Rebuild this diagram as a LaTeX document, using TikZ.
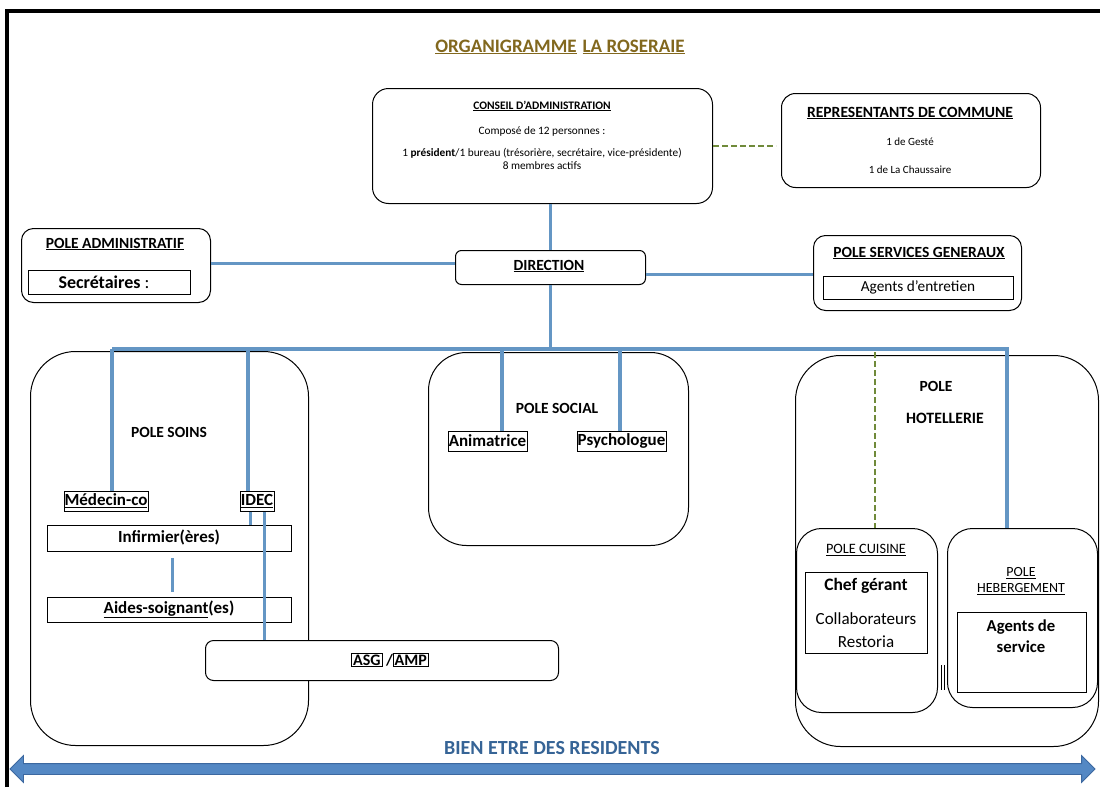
\documentclass[tikz,border=0pt]{standalone}
\usepackage{fontspec}
\setmainfont{Carlito}
\usetikzlibrary{shapes.arrows}
\definecolor{blueline}{RGB}{100,150,196}
\definecolor{titlecol}{RGB}{130,104,30}
\definecolor{olivedash}{RGB}{112,138,58}
\definecolor{bientxt}{RGB}{54,100,150}
\definecolor{arrowfill}{RGB}{84,136,196}
\definecolor{arrowline}{RGB}{60,104,160}
\begin{document}
\begin{tikzpicture}[x=1pt,y=-1pt,
  rbox/.style={draw, line width=1pt, rounded corners=#1, fill=white, inner sep=0pt, anchor=north west},
  sbox/.style={draw, line width=0.9pt, fill=white, inner sep=0pt, anchor=north west},
  link/.style={draw=blueline, line width=3.6pt},
  dashlink/.style={draw=olivedash, line width=2pt, dash pattern=on 6pt off 3pt},
  tb/.style={font=\fontsize{15.5}{18}\selectfont\bfseries, inner sep=0pt},
  tl/.style={font=\fontsize{17}{20}\selectfont\bfseries, inner sep=0pt},
  tn/.style={font=\fontsize{15.3}{18}\selectfont, inner sep=0pt},
  tsm/.style={font=\fontsize{11.3}{13}\selectfont, inner sep=0pt, align=center},
]
\useasboundingbox (0,0) rectangle (1100,787);
\fill[white] (0,0) rectangle (1100,787);
% frame
\draw[line width=4pt] (7,787) -- (7,11) -- (1100,11);

% title
\node[font=\fontsize{19}{22}\selectfont\bfseries, text=titlecol, inner sep=0pt] (title) at (560,47)
  {\underline{ORGANIGRAMME}\hspace{6pt}\underline{LA ROSERAIE}};

% conseil
\node[rbox=16pt, minimum width=340pt, minimum height=115pt] (ca) at (372,88) {};
\node[font=\fontsize{11.5}{13}\selectfont\bfseries, inner sep=0pt] (catitle) at (542,106) {\underline{CONSEIL D'ADMINISTRATION}};
\node[tsm] (cal1) at (542,131) {Composé de 12 personnes :};
\node[tsm] (cal2) at (542,159) {1 \textbf{président}/1 bureau (trésorière, secrétaire, vice-présidente)\\8 membres actifs};

% representants
\node[rbox=14pt, minimum width=259pt, minimum height=94pt] (rc) at (781,93) {};
\node[font=\fontsize{15.6}{18}\selectfont\bfseries, inner sep=0pt] (rctitle) at (910,113) {\underline{REPRESENTANTS DE COMMUNE}};
\node[font=\fontsize{11}{13}\selectfont, inner sep=0pt] (rc1) at (910,142) {1 de Gesté};
\node[font=\fontsize{11}{13}\selectfont, inner sep=0pt] (rc2) at (910,170) {1 de La Chaussaire};
\draw[dashlink, shorten >=5pt] (ca.east) -- (ca.east -| rc.west);

% direction
\node[rbox=6pt, minimum width=190pt, minimum height=34pt] (dir) at (455,250) {};
\node[tb] (dirt) at (549,266) {\underline{DIRECTION}};
\draw[link] (dir.north) -- (dir.north |- ca.south);

% pole administratif
\node[rbox=12pt, minimum width=189pt, minimum height=74pt] (pa) at (21,228) {};
\node[tb] (pat) at (115,244) {\underline{POLE ADMINISTRATIF}};
\node[sbox, minimum width=162pt, minimum height=24pt] (sa) at (28,270) {};
\node[font=\fontsize{18}{20}\selectfont, inner sep=0pt] (sat) at (104,282) {\textbf{Secrétaires} :};
\coordinate (a1) at ([yshift=2pt]pa.east);
\draw[link] (a1) -- (a1 -| dir.west);

% pole services generaux
\node[rbox=12pt, minimum width=208pt, minimum height=75pt] (sg) at (813,235) {};
\node[tb] (sgt) at (919,253) {\underline{POLE SERVICES GENERAUX}};
\node[sbox, minimum width=190pt, minimum height=23pt] (ae) at (823,276) {};
\node[tn] (aet) at (918,287.5) {Agents d’entretien};
\coordinate (d1) at ([yshift=-7pt]dir.east);
\draw[link] (d1) -- (d1 -| sg.west);

% bus
\coordinate (bL) at (112,349);
\coordinate (bR) at (1007,349);
\coordinate (bI) at (248,349);
\coordinate (bA) at (502,349);
\coordinate (bP) at (620,349);
\coordinate (bC) at (875,352);

% pole soins
\node[rbox=45pt, minimum width=278pt, minimum height=394pt] (ps) at (30,351) {};
\node[tb] (pst) at (169,432) {POLE SOINS};
\node[sbox, minimum width=84pt, minimum height=20pt] (mc) at (64,491) {};
\node[tl] (mct) at (106,501) {\underline{Médecin-co}};
\node[sbox, minimum width=34pt, minimum height=20pt] (id) at (240,491) {};
\node[tl] (idt) at (257,501) {\underline{IDEC}};
\node[sbox, minimum width=244pt, minimum height=26pt] (inf) at (47,525) {};
\node[tl] (inft) at (169,537.5) {Infirmier(ères)};
\node[sbox, minimum width=244pt, minimum height=25pt] (as) at (47,597) {};
\node[tl] (ast) at (169,609.5) {\underline{Aides-soignant}(es)};
\draw[link] (bL) -- (bL |- mc.north);
\draw[link] (bI) -- (bI |- id.north);
\coordinate (i1) at ([xshift=-7pt]id.south);
\coordinate (i2) at ([xshift=7pt]id.south);
\draw[link] (i1) -- (i1 |- inf.north);
\draw[link] ([xshift=3pt, yshift=-6pt]inf.south) -- ([xshift=3pt, yshift=5pt]as.north);

% ASG / AMP
\node[rbox=8pt, minimum width=353pt, minimum height=40pt] (asg) at (205,640) {};
\draw[link] (i2) -- (i2 |- asg.north);
\node[font=\fontsize{16}{19}\selectfont\bfseries, inner sep=0pt] (asgt) at (390,660) {\setlength{\fboxsep}{1pt}\setlength{\fboxrule}{0.8pt}\fbox{ASG} /\fbox{AMP}};

% pole social
\node[rbox=38pt, minimum width=260pt, minimum height=193pt] (pso) at (428,352) {};
\node[tb] (psot) at (557,408) {POLE SOCIAL};
\node[sbox, minimum width=79pt, minimum height=20pt] (an) at (448,431) {};
\node[tl] (ant) at (487.5,441) {Animatrice};
\node[sbox, minimum width=89pt, minimum height=20pt] (py) at (577,431) {};
\node[tl] (pyt) at (621.5,441) {Psychologue};
\draw[link] (bA) -- (bA |- an.north);
\draw[link] (bP) -- (bP |- py.north);

% pole hotellerie
\node[rbox=45pt, minimum width=303pt, minimum height=391pt] (ph) at (795,355) {};
\node[tb] (pht1) at (936,386) {POLE};
\node[font=\fontsize{15.8}{18}\selectfont\bfseries, inner sep=0pt] (pht2) at (945,418) {HOTELLERIE};
\node[rbox=25pt, minimum width=141pt, minimum height=184pt] (pc) at (796,528) {};
\node[font=\fontsize{14.3}{16}\selectfont, inner sep=0pt] (pct) at (866,550) {\underline{POLE CUISINE}};
\node[sbox, minimum width=122pt, minimum height=81pt] (cg) at (805,572) {};
\node[font=\fontsize{17.5}{20}\selectfont\bfseries, inner sep=0pt] (cg1) at (866,586) {Chef gérant};
\node[font=\fontsize{17}{20}\selectfont, inner sep=0pt] (cg2) at (866,619) {Collaborateurs};
\node[font=\fontsize{17}{20}\selectfont, inner sep=0pt] (cg3) at (866,642) {Restoria};
\node[rbox=25pt, minimum width=150pt, minimum height=179pt] (phb) at (947,528) {};
\node[font=\fontsize{14}{16}\selectfont, inner sep=0pt, align=center] (phbt) at (1021,581) {\underline{POLE}\\\underline{HEBERGEMENT}};
\node[sbox, minimum width=129pt, minimum height=80pt] (asv) at (957,612) {};
\node[font=\fontsize{16.7}{21}\selectfont\bfseries, inner sep=0pt, align=center] (asvt) at (1021,636) {Agents de\\service};
\draw[line width=0.8pt] (941,665) -- (941,690);
\draw[line width=0.8pt] (944,665) -- (944,690);
\draw[dashlink] (bC) -- (bC |- pc.north);
\draw[link] (dir.south) -- (dir.south |- bL);
\draw[link] (bL) -- (bR) -- (bR |- phb.north);

% bien etre
\node[font=\fontsize{20}{23}\selectfont\bfseries, text=bientxt, inner sep=0pt] (be) at (552,748) {BIEN ETRE DES RESIDENTS};
\node[double arrow, draw=arrowline, fill=arrowfill, line width=0.8pt, minimum height=1085pt, minimum width=26pt, inner sep=5pt, double arrow head extend=8pt] (well) at (552.5,769) {};
\end{tikzpicture}
\end{document}
